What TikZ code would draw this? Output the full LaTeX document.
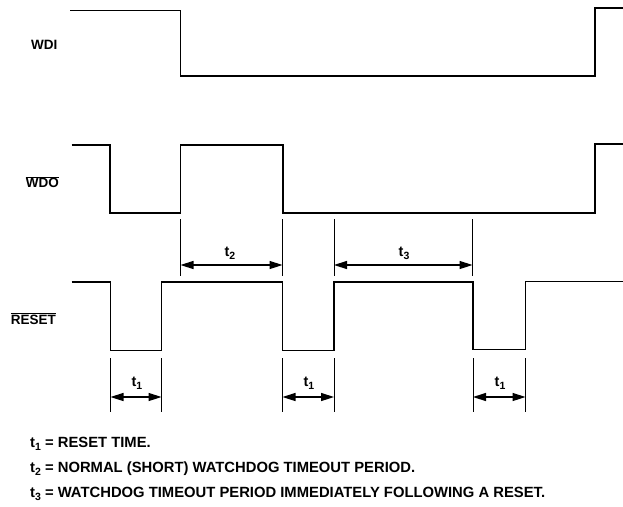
\documentclass[tikz,border=0pt]{standalone}
\usepackage{fontspec}
\setmainfont{Liberation Sans}
\usetikzlibrary{arrows.meta}
\newcommand{\tsub}[1]{t\raisebox{-0.4ex}{\fontsize{10.5}{10}\selectfont #1}}
\newcommand{\ovl}[1]{$\overline{\hbox{#1}}$}
\begin{document}
\begin{tikzpicture}[x=1pt,y=-1pt,
  sig/.style={line width=1.9pt,line join=miter},
  tick/.style={line width=0.6pt},
  dim/.style={line width=1.5pt,{Triangle[length=13pt,width=8pt]}-{Triangle[length=13pt,width=8pt]}},
  lab/.style={anchor=east,font=\fontsize{13.5}{14}\selectfont\bfseries,inner sep=0pt},
  tl/.style={font=\fontsize{14.5}{15}\selectfont\bfseries,inner sep=0pt},
  note/.style={anchor=west,font=\fontsize{14.8}{16}\selectfont\bfseries,inner sep=0pt}]
\useasboundingbox (0,0) rectangle (623,506);
% labels
\node[lab] (wdi) at (57.5,45) {WDI};
\node[lab] (wdo) at (59,182) {\ovl{WDO}};
\node[lab] (rst) at (56,318.5) {\ovl{RESET}};
% waveforms
\draw[sig] (70,10.5) -- (180.5,10.5) -- (180.5,76) -- (595,76) -- (595,8) -- (623,8);
\draw[sig] (71.5,145) -- (110,145) -- (110,213) -- (180.5,213) -- (180.5,145) -- (283,145) -- (283,213) -- (595,213) -- (595,144) -- (623,144);
\draw[sig] (71.5,282) -- (110.5,282) -- (110.5,350.5) -- (161.5,350.5) -- (161.5,282) -- (282.5,282) -- (282.5,350.5) -- (334,350.5) -- (334,282) -- (473,282) -- (473,349.5) -- (525.5,349.5) -- (525.5,281.5) -- (623,281.5);
% upper markers
\foreach \n/\x in {a/180.5,b/282.5,c/334,d/472.5}{
  \coordinate (u\n1) at (\x,219);
  \coordinate (u\n2) at (\x,276);
  \coordinate (u\n) at (\x,265);
  \draw[tick] (u\n1) -- (u\n2);
}
\draw[dim] (ua) -- (ub);
\draw[dim] (uc) -- (ud);
\node[tl] (t2) at (230,253) {\tsub{2}};
\node[tl] (t3) at (404,253) {\tsub{3}};
% lower markers
\foreach \n/\x in {a/110.5,b/161.5,c/282.5,d/334,e/473,f/525.5}{
  \coordinate (l\n1) at (\x,358);
  \coordinate (l\n2) at (\x,412);
  \coordinate (l\n) at (\x,397);
  \draw[tick] (l\n1) -- (l\n2);
}
\draw[dim] (la) -- (lb);
\draw[dim] (lc) -- (ld);
\draw[dim] (le) -- (lf);
\node[tl] (t1a) at (137,383) {\tsub{1}};
\node[tl] (t1b) at (309,383) {\tsub{1}};
\node[tl] (t1c) at (500,383) {\tsub{1}};
% notes
\node[note] (n1) at (30,444) {\tsub{1} = RESET TIME.};
\node[note] (n2) at (30,469) {\tsub{2} = NORMAL (SHORT) WATCHDOG TIMEOUT PERIOD.};
\node[note] (n3) at (30,494) {\tsub{3} = WATCHDOG TIMEOUT PERIOD IMMEDIATELY FOLLOWING A RESET.};
\end{tikzpicture}
\end{document}
